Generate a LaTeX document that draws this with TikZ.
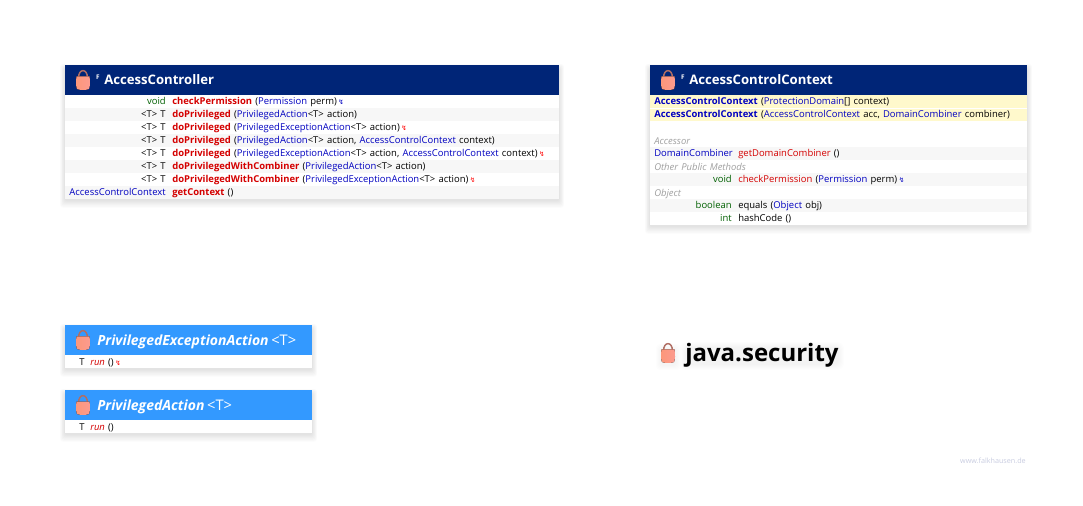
\documentclass[tikz,border=0pt]{standalone}
\usepackage{fontspec}
\setmainfont{Open Sans}[WordSpace=1.3]
\newfontfamily\boltfont{DejaVu Sans}
\definecolor{navyhead}{RGB}{0,37,119}
\definecolor{skyhead}{RGB}{51,153,255}
\definecolor{rowgrey}{RGB}{247,247,247}
\definecolor{rowyellow}{RGB}{255,249,204}
\definecolor{typeblue}{RGB}{0,0,192}
\definecolor{methred}{RGB}{212,0,0}
\definecolor{retgreen}{RGB}{0,96,0}
\definecolor{notegrey}{RGB}{160,160,160}
\definecolor{lockbody}{RGB}{252,155,143}
\definecolor{lockhandle}{RGB}{176,110,100}
\definecolor{siteblue}{RGB}{200,204,224}
\newcommand{\ty}[1]{\textcolor{typeblue}{#1}}
\newcommand{\mb}[1]{\textcolor{methred}{\bfseries #1}}
\newcommand{\mr}[1]{\textcolor{methred}{#1}}
\newcommand{\ctor}[1]{\textcolor{typeblue}{\bfseries #1}}
\newcommand{\bolt}[1]{\,{\boltfont\fontsize{5pt}{5pt}\selectfont\textcolor{#1}{↯}}}
\newcommand{\boxshadow}[4]{\foreach \s in {1,...,7} {\fill [black, fill opacity=0.016, rounded corners=2pt] (#1-\s*0.7,#2+4-\s*0.7) rectangle (#3+\s*0.7,#4+1+\s*1.1);}}
\tikzset{
  rettext/.style={anchor=base east,inner sep=0pt,font=\fontsize{7.1pt}{8pt}\selectfont,text=black},
  sigtext/.style={anchor=base west,inner sep=0pt,font=\fontsize{7.1pt}{8pt}\selectfont,text=black},
  notetext/.style={sigtext,font=\fontsize{7.1pt}{8pt}\selectfont\itshape,text=notegrey},
  headtext/.style={anchor=base west,inner sep=0pt,font=\fontsize{9.85pt}{12pt}\selectfont\bfseries,text=white},
  ifacetext/.style={headtext,font=\fontsize{10.5pt}{12pt}\selectfont\bfseries\itshape},
  finalmark/.style={anchor=center,inner sep=0pt,font=\fontsize{4.8pt}{5pt}\selectfont\bfseries,text=white},
  lockicon/.pic={
    \draw [lockhandle,line width=1.1pt] (2.5,8) .. controls (2.5,-1.8) and (11.5,-1.8) .. (11.5,8);
    \fill [left color=lockbody!85!orange,right color=lockbody] (0.5,6.5) -- (13.5,6.5) .. controls (14.3,11) and (14.2,16) .. (13,19) .. controls (10,20.3) and (4,20.3) .. (1,19) .. controls (-0.2,16) and (-0.3,11) .. (0.5,6.5) -- cycle;
  }
}
\begin{document}
\begin{tikzpicture}[x=0.75pt,y=0.75pt,yscale=-1,xscale=1]
  \useasboundingbox (0,0) rectangle (1083,506);

  %Shape: Shadows
  \boxshadow{65}{65}{559}{199}
  \boxshadow{650}{65}{1027}{225}
  \boxshadow{65}{325}{312}{368}
  \boxshadow{65}{390}{312}{433}

  %Shape: AccessController box
  \fill [white] (65,95) rectangle (559,199);
  \fill [navyhead] (65,65) rectangle (559,95);
  \fill [rowgrey] (65,108) rectangle (559,121);
  \fill [rowgrey] (65,134) rectangle (559,147);
  \fill [rowgrey] (65,160) rectangle (559,173);
  \fill [rowgrey] (65,186) rectangle (559,199);
  \pic [transform shape] at (76,70) {lockicon};

  %Shape: AccessControlContext box
  \fill [white] (650,95) rectangle (1027,225);
  \fill [navyhead] (650,65) rectangle (1027,95);
  \fill [rowyellow] (650,95) rectangle (1027,121);
  \draw [white,line width=0.5pt] (650,108) -- (1027,108);
  \fill [rowgrey] (650,147) rectangle (1027,160);
  \fill [rowgrey] (650,173) rectangle (1027,186);
  \fill [rowgrey] (650,199) rectangle (1027,212);
  \pic [transform shape] at (661,70) {lockicon};

  %Shape: interface boxes
  \fill [white] (65,355) rectangle (312,368);
  \fill [skyhead] (65,325) rectangle (312,355);
  \pic [transform shape] at (76,330) {lockicon};
  \fill [white] (65,420) rectangle (312,433);
  \fill [skyhead] (65,390) rectangle (312,420);
  \pic [transform shape] at (76,395) {lockicon};

  % Text Node
  \draw (98,77) node (acfinal) [finalmark] {F};
  \draw (104,85) node (achead) [headtext] {AccessController};
  \draw (166,105) node (acret1) [rettext] {\textcolor{retgreen}{void}};
  \draw (172,105) node (acsig1) [sigtext] {\mb{checkPermission} (\ty{Permission} perm)\bolt{typeblue}};
  \draw (166,118) node (acret2) [rettext] {<T> T};
  \draw (172,118) node (acsig2) [sigtext] {\mb{doPrivileged} (\ty{PrivilegedAction}<T> action)};
  \draw (166,131) node (acret3) [rettext] {<T> T};
  \draw (172,131) node (acsig3) [sigtext] {\mb{doPrivileged} (\ty{PrivilegedExceptionAction}<T> action)\bolt{red}};
  \draw (166,144) node (acret4) [rettext] {<T> T};
  \draw (172,144) node (acsig4) [sigtext] {\mb{doPrivileged} (\ty{PrivilegedAction}<T> action, \ty{AccessControlContext} context)};
  \draw (166,157) node (acret5) [rettext] {<T> T};
  \draw (172,157) node (acsig5) [sigtext] {\mb{doPrivileged} (\ty{PrivilegedExceptionAction}<T> action, \ty{AccessControlContext} context)\bolt{red}};
  \draw (166,170) node (acret6) [rettext] {<T> T};
  \draw (172,170) node (acsig6) [sigtext] {\mb{doPrivilegedWithCombiner} (\ty{PrivilegedAction}<T> action)};
  \draw (166,183) node (acret7) [rettext] {<T> T};
  \draw (172,183) node (acsig7) [sigtext] {\mb{doPrivilegedWithCombiner} (\ty{PrivilegedExceptionAction}<T> action)\bolt{red}};
  \draw (166,196) node (acret8) [rettext] {\ty{AccessControlContext}};
  \draw (172,196) node (acsig8) [sigtext] {\mb{getContext} ()};

  % Text Node
  \draw (683,77) node (ctxfinal) [finalmark] {F};
  \draw (689,85) node (ctxhead) [headtext] {AccessControlContext};
  \draw (654,105) node (ctxsig1) [sigtext] {\ctor{AccessControlContext} (\ty{ProtectionDomain}[] context)};
  \draw (654,118) node (ctxsig2) [sigtext] {\ctor{AccessControlContext} (\ty{AccessControlContext} acc, \ty{DomainCombiner} combiner)};
  \draw (654,145) node (ctxnote1) [notetext] {Accessor};
  \draw (654,157) node (ctxret3) [sigtext] {\ty{DomainCombiner}};
  \draw (738,157) node (ctxsig3) [sigtext] {\mr{getDomainCombiner} ()};
  \draw (654,171) node (ctxnote2) [notetext] {Other Public Methods};
  \draw (732,183) node (ctxret4) [rettext] {\textcolor{retgreen}{void}};
  \draw (738,183) node (ctxsig4) [sigtext] {\mr{checkPermission} (\ty{Permission} perm)\bolt{typeblue}};
  \draw (654,197) node (ctxnote3) [notetext] {Object};
  \draw (732,209) node (ctxret5) [rettext] {\textcolor{retgreen}{boolean}};
  \draw (738,209) node (ctxsig5) [sigtext] {equals (\ty{Object} obj)};
  \draw (732,222) node (ctxret6) [rettext] {\textcolor{retgreen}{int}};
  \draw (738,222) node (ctxsig6) [sigtext] {hashCode ()};

  % Text Node
  \draw (97,345) node (peahead) [ifacetext] {PrivilegedExceptionAction\hspace{2pt}\textnormal{\fontsize{11pt}{12pt}\selectfont <T>}};
  \draw (85,365) node (pearet) [rettext] {T};
  \draw (90,365) node (peasig) [sigtext] {\textcolor{methred}{\itshape run} ()\bolt{red}};
  \draw (97,410) node (pahead) [ifacetext] {PrivilegedAction\hspace{2pt}\textnormal{\fontsize{11pt}{12pt}\selectfont <T>}};
  \draw (85,430) node (paret) [rettext] {T};
  \draw (90,430) node (pasig) [sigtext] {\textcolor{methred}{\itshape run} ()};

  %Shape: package icon and title
  \foreach \s in {1,...,5} {\fill [black, fill opacity=0.008, rounded corners=3pt] (661-\s,346-\s+3) rectangle (676+\s,362+\s+3);}
  \foreach \s in {1,...,6} {\fill [black, fill opacity=0.008, rounded corners=5pt] (686-\s,345-\s+3) rectangle (838+\s,361+\s+3);}
  \pic [transform shape] at (661,343) {lockicon};
  \draw (685,361) node (pkgtitle) [anchor=base west,inner sep=0pt,font=\fontsize{18pt}{22pt}\selectfont\bfseries,text=black] {java.security};

  % Text Node
  \draw (1026,463) node (sitemark) [anchor=base east,inner sep=0pt,font=\fontsize{5.4pt}{6pt}\selectfont,text=siteblue] {www.falkhausen.de};
\end{tikzpicture}
\end{document}
